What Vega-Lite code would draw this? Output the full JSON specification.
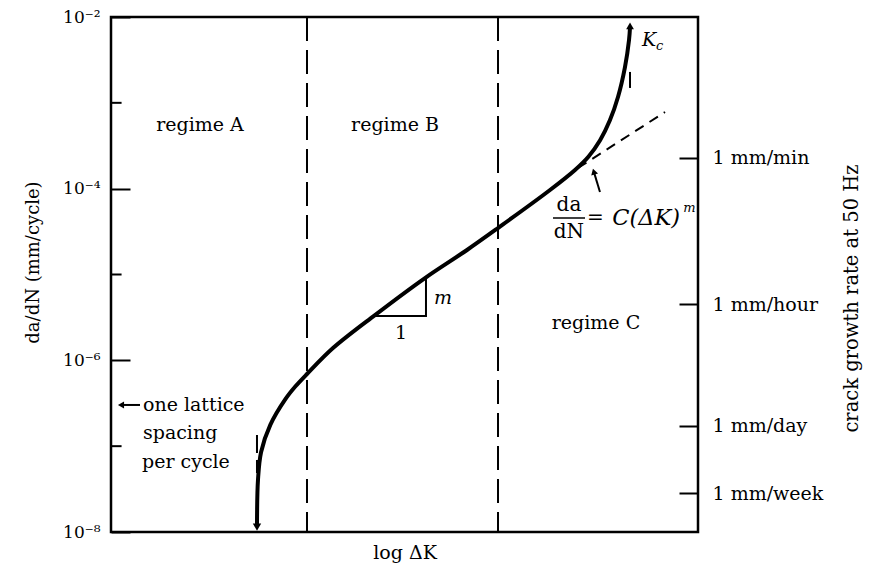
{
  "$schema": "https://vega.github.io/schema/vega-lite/v6.json",
  "width": 587,
  "height": 515,
  "autosize": {"type": "none"},
  "padding": {"left": 111, "top": 17, "right": 177, "bottom": 37},
  "background": "white",
  "config": {
    "font": "DejaVu Serif",
    "view": {"stroke": "black", "strokeWidth": 2.5},
    "axis": {"grid": false, "domain": false, "labelFont": "DejaVu Serif", "titleFont": "DejaVu Serif", "labelColor": "black", "titleColor": "black", "tickColor": "black", "titleFontWeight": "normal"},
    "text": {"font": "DejaVu Serif", "fontSize": 19, "color": "black"}
  },
  "datasets": {
    "curve": [
      {"dk": 24.87, "rate": 1.143e-8},
      {"dk": 25.04, "rate": 4.04e-8},
      {"dk": 25.57, "rate": 8.55e-8},
      {"dk": 27.14, "rate": 1.77e-7},
      {"dk": 29.74, "rate": 3.55e-7},
      {"dk": 31.43, "rate": 4.98e-7},
      {"dk": 33.39, "rate": 6.93e-7},
      {"dk": 37.82, "rate": 1.39e-6},
      {"dk": 44.97, "rate": 3.37e-6},
      {"dk": 53.49, "rate": 9.10e-6},
      {"dk": 60.65, "rate": 1.93e-5},
      {"dk": 65.93, "rate": 3.48e-5},
      {"dk": 74.79, "rate": 9.64e-5},
      {"dk": 79.05, "rate": 1.65e-4},
      {"dk": 81.33, "rate": 2.35e-4},
      {"dk": 83.32, "rate": 3.66e-4},
      {"dk": 84.99, "rate": 6.25e-4},
      {"dk": 86.37, "rate": 1.17e-3},
      {"dk": 87.56, "rate": 2.61e-3},
      {"dk": 88.25, "rate": 5.40e-3},
      {"dk": 88.42, "rate": 7.64e-3}
    ],
    "regimes": [{"dk": 33.39}, {"dk": 65.93}],
    "tangent": [{"dk": 79.56, "rate": 1.74e-4}, {"dk": 94.38, "rate": 7.82e-4}],
    "thresholds": [
      {"dk": 24.87, "rate": 1.35e-7, "rate2": 4.86e-8},
      {"dk": 88.42, "rate": 2.29e-3, "rate2": 1.49e-3}
    ],
    "slope": [
      {"order": 1, "dk": 44.97, "rate": 3.29e-6},
      {"order": 2, "dk": 53.66, "rate": 3.29e-6},
      {"order": 3, "dk": 53.66, "rate": 9.10e-6}
    ],
    "pointers": [
      {"dk": 83.30, "rate": 9.14e-5, "dk2": 82.25, "rate2": 1.58e-4},
      {"dk": 1.9, "rate": 3.02e-7, "dk2": 4.94, "rate2": 3.02e-7}
    ],
    "minor": [
      {"dk": 0, "dk2": 1.8, "rate": 1e-7},
      {"dk": 0, "dk2": 1.8, "rate": 1e-5},
      {"dk": 0, "dk2": 1.8, "rate": 1e-3}
    ],
    "fraction": [{"dk": 75.30, "dk2": 80.75, "rate": 4.55e-5}],
    "centerTexts": [
      {"text": "regime A", "dk": 15.16, "rate": 5.52e-4},
      {"text": "regime B", "dk": 48.38, "rate": 5.52e-4},
      {"text": "regime C", "dk": 82.62, "rate": 2.72e-6},
      {"text": "1", "dk": 49.40, "rate": 2.08e-6}
    ],
    "eqTexts": [
      {"text": "da", "dk": 78.02, "rate": 6.40e-5},
      {"text": "dN", "dk": 78.02, "rate": 3.15e-5}
    ],
    "eqLeft": [
      {"text": "=", "dk": 81.09, "rate": 4.55e-5}
    ],
    "eqItalic": [
      {"text": "C(ΔK)", "dk": 85.4, "rate": 4.55e-5}
    ],
    "leftTexts": [
      {"text": "one lattice", "dk": 5.45, "rate": 3.02e-7},
      {"text": "spacing", "dk": 5.45, "rate": 1.42e-7},
      {"text": "per cycle", "dk": 5.28, "rate": 6.55e-8}
    ],
    "italicTexts": [
      {"text": "m", "dk": 55.03, "rate": 5.32e-6},
      {"text": "K", "dk": 90.46, "rate": 5.40e-3}
    ],
    "smallTexts": [
      {"text": "c", "dk": 92.84, "rate": 4.59e-3},
      {"text": "m", "dk": 97.5, "rate": 5.96e-5}
    ],
    "headDown": [{"dk": 24.87, "rate": 1.143e-8}],
    "headUp": [{"dk": 88.42, "rate": 7.86e-3}],
    "headPointer": [{"dk": 82.25, "rate": 1.58e-4}],
    "headLeft": [{"dk": 1.7, "rate": 3.02e-7}],
    "rightTicks": [
      {"label": "1 mm/min", "rate": 2.28e-4},
      {"label": "1 mm/hour", "rate": 4.53e-6},
      {"label": "1 mm/day", "rate": 1.72e-7},
      {"label": "1 mm/week", "rate": 2.84e-8}
    ]
  },
  "layer": [
    {
      "layer": [
        {
          "data": {"name": "regimes"},
          "mark": {"type": "rule", "color": "black", "strokeWidth": 2, "strokeDash": [24, 9]},
          "encoding": {
            "x": {"field": "dk", "type": "quantitative", "scale": {"domain": [0, 100], "nice": false, "zero": false},
                  "axis": {"title": "log ΔK", "labels": false, "ticks": false, "domain": false, "titleFontSize": 19, "titlePadding": 11}}
          }
        },
        {
          "data": {"name": "curve"},
          "mark": {"type": "line", "color": "black", "strokeWidth": 4, "interpolate": "catmull-rom"},
          "encoding": {
            "x": {"field": "dk", "type": "quantitative"},
            "y": {"field": "rate", "type": "quantitative", "scale": {"type": "log", "domain": [1e-8, 1e-2], "nice": false},
                  "axis": {"title": "da/dN (mm/cycle)", "titleFontSize": 18, "titlePadding": 20, "titleY": 245,
                           "values": [1e-8, 1e-6, 1e-4, 1e-2],
                           "labelExpr": "datum.value < 1e-7 ? '10⁻⁸' : datum.value < 1e-5 ? '10⁻⁶' : datum.value < 1e-3 ? '10⁻⁴' : '10⁻²'",
                           "labelFontSize": 17, "tickSize": -19, "tickWidth": 2, "labelPadding": 30}}
          }
        },
        {
          "data": {"name": "tangent"},
          "mark": {"type": "line", "color": "black", "strokeWidth": 2, "strokeDash": [10, 7]},
          "encoding": {
            "x": {"field": "dk", "type": "quantitative"},
            "y": {"field": "rate", "type": "quantitative"}
          }
        },
        {
          "data": {"name": "thresholds"},
          "mark": {"type": "rule", "color": "black", "strokeWidth": 2, "strokeDash": [18, 7]},
          "encoding": {
            "x": {"field": "dk", "type": "quantitative"},
            "y": {"field": "rate", "type": "quantitative"},
            "y2": {"field": "rate2"}
          }
        },
        {
          "data": {"name": "slope"},
          "mark": {"type": "line", "color": "black", "strokeWidth": 2},
          "encoding": {
            "x": {"field": "dk", "type": "quantitative"},
            "y": {"field": "rate", "type": "quantitative"},
            "order": {"field": "order"}
          }
        },
        {
          "data": {"name": "pointers"},
          "mark": {"type": "rule", "color": "black", "strokeWidth": 2},
          "encoding": {
            "x": {"field": "dk", "type": "quantitative"},
            "x2": {"field": "dk2"},
            "y": {"field": "rate", "type": "quantitative"},
            "y2": {"field": "rate2"}
          }
        },
        {
          "data": {"name": "minor"},
          "mark": {"type": "rule", "color": "black", "strokeWidth": 2},
          "encoding": {
            "x": {"field": "dk", "type": "quantitative"},
            "x2": {"field": "dk2"},
            "y": {"field": "rate", "type": "quantitative"}
          }
        },
        {
          "data": {"name": "fraction"},
          "mark": {"type": "rule", "color": "black", "strokeWidth": 1.5},
          "encoding": {
            "x": {"field": "dk", "type": "quantitative"},
            "x2": {"field": "dk2"},
            "y": {"field": "rate", "type": "quantitative"}
          }
        },
        {
          "data": {"name": "headDown"},
          "mark": {"type": "point", "shape": "triangle-down", "filled": true, "color": "black", "size": 70, "opacity": 1},
          "encoding": {
            "x": {"field": "dk", "type": "quantitative"},
            "y": {"field": "rate", "type": "quantitative"}
          }
        },
        {
          "data": {"name": "headUp"},
          "mark": {"type": "point", "shape": "triangle-up", "filled": true, "color": "black", "size": 60, "opacity": 1},
          "encoding": {
            "x": {"field": "dk", "type": "quantitative"},
            "y": {"field": "rate", "type": "quantitative"}
          }
        },
        {
          "data": {"name": "headPointer"},
          "mark": {"type": "point", "shape": "triangle-up", "filled": true, "color": "black", "size": 50, "angle": -16, "opacity": 1},
          "encoding": {
            "x": {"field": "dk", "type": "quantitative"},
            "y": {"field": "rate", "type": "quantitative"}
          }
        },
        {
          "data": {"name": "headLeft"},
          "mark": {"type": "point", "shape": "triangle-left", "filled": true, "color": "black", "size": 50, "opacity": 1},
          "encoding": {
            "x": {"field": "dk", "type": "quantitative"},
            "y": {"field": "rate", "type": "quantitative"}
          }
        },
        {
          "data": {"name": "centerTexts"},
          "mark": {"type": "text", "align": "center", "baseline": "middle", "fontSize": 19},
          "encoding": {
            "x": {"field": "dk", "type": "quantitative"},
            "y": {"field": "rate", "type": "quantitative"},
            "text": {"field": "text"}
          }
        },
        {
          "data": {"name": "eqTexts"},
          "mark": {"type": "text", "align": "center", "baseline": "middle", "fontSize": 20},
          "encoding": {
            "x": {"field": "dk", "type": "quantitative"},
            "y": {"field": "rate", "type": "quantitative"},
            "text": {"field": "text"}
          }
        },
        {
          "data": {"name": "eqLeft"},
          "mark": {"type": "text", "align": "left", "baseline": "middle", "fontSize": 20},
          "encoding": {
            "x": {"field": "dk", "type": "quantitative"},
            "y": {"field": "rate", "type": "quantitative"},
            "text": {"field": "text"}
          }
        },
        {
          "data": {"name": "eqItalic"},
          "mark": {"type": "text", "align": "left", "baseline": "middle", "fontSize": 22.5, "fontStyle": "italic"},
          "encoding": {
            "x": {"field": "dk", "type": "quantitative"},
            "y": {"field": "rate", "type": "quantitative"},
            "text": {"field": "text"}
          }
        },
        {
          "data": {"name": "leftTexts"},
          "mark": {"type": "text", "align": "left", "baseline": "middle", "fontSize": 19},
          "encoding": {
            "x": {"field": "dk", "type": "quantitative"},
            "y": {"field": "rate", "type": "quantitative"},
            "text": {"field": "text"}
          }
        },
        {
          "data": {"name": "italicTexts"},
          "mark": {"type": "text", "align": "left", "baseline": "middle", "fontSize": 19, "fontStyle": "italic"},
          "encoding": {
            "x": {"field": "dk", "type": "quantitative"},
            "y": {"field": "rate", "type": "quantitative"},
            "text": {"field": "text"}
          }
        },
        {
          "data": {"name": "smallTexts"},
          "mark": {"type": "text", "align": "left", "baseline": "middle", "fontSize": 13, "fontStyle": "italic"},
          "encoding": {
            "x": {"field": "dk", "type": "quantitative"},
            "y": {"field": "rate", "type": "quantitative"},
            "text": {"field": "text"}
          }
        }
      ]
    },
    {
      "data": {"name": "rightTicks"},
      "mark": {"type": "point", "opacity": 0},
      "encoding": {
        "x": {"datum": 100, "type": "quantitative"},
        "y": {"field": "rate", "type": "quantitative", "scale": {"type": "log", "domain": [1e-8, 1e-2], "nice": false},
              "axis": {"orient": "right", "title": "crack growth rate at 50 Hz", "titleFontSize": 19.5, "titleAngle": 270, "titlePadding": 39, "titleY": 281,
                       "values": [2.28e-4, 4.53e-6, 1.72e-7, 2.84e-8],
                       "labelExpr": "datum.value > 1e-4 ? '1 mm/min' : datum.value > 1e-6 ? '1 mm/hour' : datum.value > 1e-7 ? '1 mm/day' : '1 mm/week'",
                       "labelFontSize": 19, "tickSize": -19, "tickWidth": 2, "labelPadding": 33}}
      }
    }
  ],
  "resolve": {"scale": {"y": "independent"}}
}
